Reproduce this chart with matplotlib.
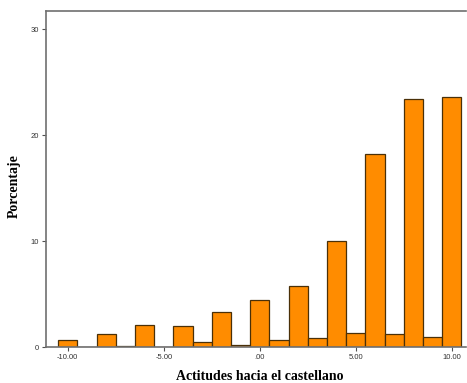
import matplotlib.pyplot as plt

valores = [-10, -9, -8, -7, -6, -5, -4, -3, -2, -1, 0, 1, 2, 3, 4, 5, 6, 7, 8, 9, 10]
porcentaje = [0.7, 0.0, 1.23, 0.12, 2.07, 0.0, 1.98, 0.44, 3.27, 0.15, 4.47,
              0.69, 5.75, 0.85, 10.0, 1.35, 18.2, 1.26, 23.4, 0.94, 23.6]
xticks = [-10, -5, 0, 5, 10]
xtick_labels = ['-10.00', '-5.00', '.00', '5.00', '10.00']
yticks = [0, 10, 20, 30]

fig = plt.figure(figsize=(4.67, 3.83), dpi=100)
ax = fig.add_axes([46 / 467, 36 / 383, 420 / 467, 336 / 383])

ax.bar(valores, porcentaje, width=1.0, color='#FF8C00', edgecolor='#4a3008', linewidth=0.9)

ax.set_xlim(-11.13, 10.74)
ax.set_ylim(0, 31.7)
ax.set_xticks(xticks)
ax.set_xticklabels(xtick_labels)
ax.set_yticks(yticks)

for s in ['left', 'top', 'bottom']:
    ax.spines[s].set_color('#707070')
    ax.spines[s].set_linewidth(1.2)
ax.spines['right'].set_visible(False)

ax.tick_params(axis='both', direction='out', length=3, width=0.8, color='#505050',
               labelsize=5.5, labelcolor='#333333', pad=2)
for lab in ax.get_xticklabels() + ax.get_yticklabels():
    lab.set_family('Liberation Sans')

ax.set_xlabel('Actitudes hacia el castellano', family='Liberation Serif',
              fontweight='bold', fontsize=10, va='center')
ax.xaxis.set_label_coords(0.51, -0.087)
ax.set_ylabel('Porcentaje', family='Liberation Serif', fontweight='bold',
              fontsize=10, va='center')
ax.yaxis.set_label_coords(-0.076, 0.48)

fig.savefig('out.png', dpi=100)
